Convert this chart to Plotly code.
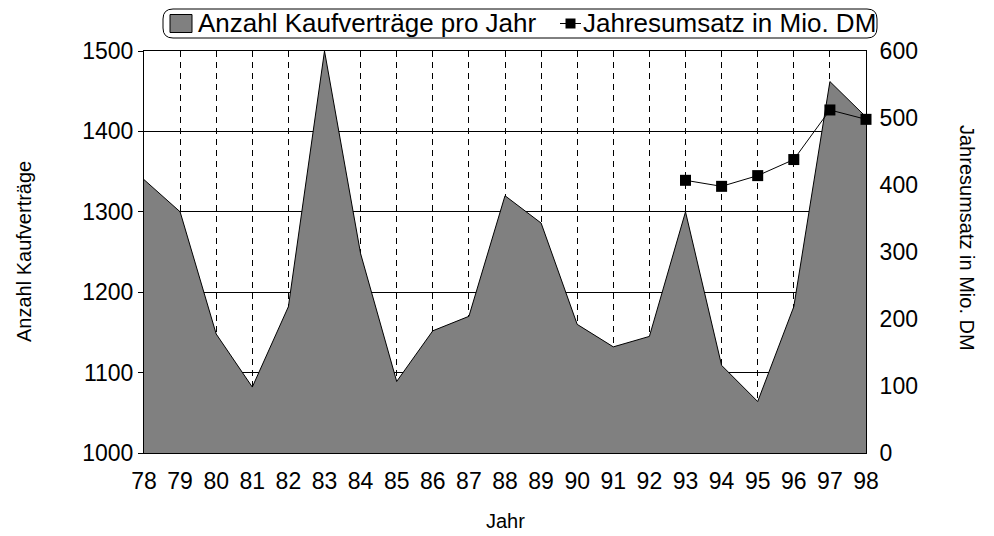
import plotly.graph_objects as go

years = list(range(78, 99))
year_labels = [str(y) for y in years]
kaufvertraege = [1340, 1300, 1148, 1082, 1182, 1500, 1248, 1089, 1152, 1170,
                 1320, 1286, 1160, 1132, 1145, 1300, 1109, 1064, 1182, 1462, 1418]
umsatz_years = [93, 94, 95, 96, 97, 98]
umsatz = [407, 398, 414, 438, 512, 498]

FONT = "Liberation Sans, Arial, sans-serif"
OFF = 8  # page body margin offset
W, H = 994 - OFF, 536 - OFF
ML, MR, MT, MB = 144 - OFF, 128, 51 - OFF, 83
PW, PH = W - ML - MR, H - MT - MB


def px(x):
    return (x - OFF - ML) / PW


def py(y):
    return (H - MB - (y - OFF)) / PH


fig = go.Figure()
fig.add_trace(go.Scatter(
    x=years, y=kaufvertraege, name="Anzahl Kaufverträge pro Jahr",
    mode="lines", fill="tozeroy", fillcolor="#808080",
    line=dict(color="black", width=1), yaxis="y", showlegend=False))
fig.add_trace(go.Scatter(
    x=umsatz_years, y=umsatz, name="Jahresumsatz in Mio. DM",
    mode="lines+markers", line=dict(color="black", width=1),
    marker=dict(symbol="square", size=11, color="black"),
    cliponaxis=False, yaxis="y2", showlegend=False))

# custom legend (rounded box)
LC = 23.5  # legend centre line (px)
x0, x1, y0, y1, r = 163, 877, 9, 38, 10
rx, ry = r / PW, r / PH
X0, X1, Y0, Y1 = px(x0), px(x1), py(y1), py(y0)
path = (f"M {X0+rx},{Y1} L {X1-rx},{Y1} Q {X1},{Y1} {X1},{Y1-ry} "
        f"L {X1},{Y0+ry} Q {X1},{Y0} {X1-rx},{Y0} L {X0+rx},{Y0} "
        f"Q {X0},{Y0} {X0},{Y0+ry} L {X0},{Y1-ry} Q {X0},{Y1} {X0+rx},{Y1} Z")
shapes = [
    dict(type="path", xref="paper", yref="paper", path=path,
         line=dict(color="black", width=1), fillcolor="white", layer="above"),
    dict(type="rect", xref="paper", yref="paper", x0=px(170), x1=px(192),
         y0=py(LC + 9), y1=py(LC - 9), fillcolor="#808080", line=dict(color="black", width=1)),
    dict(type="line", xref="paper", yref="paper", x0=px(560), x1=px(581),
         y0=py(LC), y1=py(LC), line=dict(color="black", width=1)),
    dict(type="rect", xref="paper", yref="paper", x0=px(565.5), x1=px(575.5),
         y0=py(LC + 5), y1=py(LC - 5), fillcolor="black", line=dict(color="black", width=0)),
]

fig.update_layout(
    width=W, height=H,
    margin=dict(l=ML, r=MR, t=MT, b=MB, autoexpand=False),
    paper_bgcolor="white", plot_bgcolor="white",
    font=dict(family=FONT, size=23, color="black"),
    showlegend=False,
    shapes=shapes,
    xaxis=dict(range=[78, 98], tickmode="array", tickvals=years, ticktext=year_labels,
               showgrid=True, gridcolor="black", gridwidth=1, griddash="6px,5px",
               showline=True, linecolor="black", linewidth=1, mirror=True,
               ticks="outside", ticklen=7, tickcolor="rgba(0,0,0,0)",
               zeroline=False, tickfont=dict(size=23), automargin=False),
    yaxis=dict(range=[1000, 1500], tickmode="linear", tick0=1000, dtick=100,
               showgrid=True, gridcolor="black", gridwidth=1,
               showline=True, linecolor="black", linewidth=1, mirror=True,
               ticks="outside", ticklen=5, tickcolor="black", zeroline=False,
               tickfont=dict(size=23), automargin=False),
    yaxis2=dict(range=[0, 600], tickmode="linear", tick0=0, dtick=100,
                overlaying="y", side="right", showgrid=False,
                showline=True, linecolor="black", linewidth=1,
                ticks="outside", ticklen=8, tickcolor="rgba(0,0,0,0)", zeroline=False,
                tickfont=dict(size=23), automargin=False),
    annotations=[
        dict(text="Anzahl Kaufverträge pro Jahr", xref="paper", yref="paper",
             x=px(196), y=py(LC), xanchor="left", yanchor="middle",
             showarrow=False, font=dict(size=26)),
        dict(text="Jahresumsatz in Mio. DM", xref="paper", yref="paper",
             x=px(581), y=py(LC), xanchor="left", yanchor="middle",
             showarrow=False, font=dict(size=26)),
        dict(text="Anzahl Kaufverträge", xref="paper", yref="paper", x=px(24), y=py(252),
             xanchor="center", yanchor="middle", textangle=-90, showarrow=False,
             font=dict(size=20)),
        dict(text="Jahresumsatz in Mio. DM", xref="paper", yref="paper", x=px(967), y=py(238),
             xanchor="center", yanchor="middle", textangle=90, showarrow=False,
             font=dict(size=20)),
        dict(text="Jahr", xref="paper", yref="paper", x=px(505), y=py(521),
             xanchor="center", yanchor="middle", showarrow=False, font=dict(size=20)),
    ],
)

fig.write_html("out.html")
